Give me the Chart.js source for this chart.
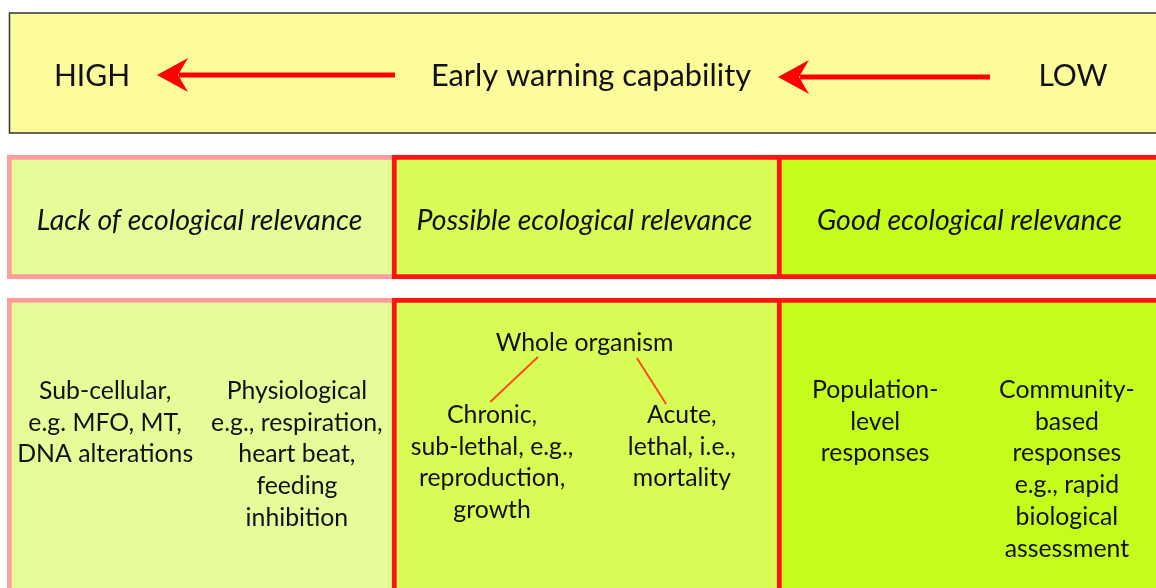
<!DOCTYPE html>
<html>
<head>
<meta charset="utf-8">
<script src="https://cdn.jsdelivr.net/npm/chart.js@4/dist/chart.umd.min.js"></script>
<style>
html, body { margin: 0; padding: 0; background: #fff; overflow: hidden; }
canvas { display: block; }
</style>
</head>
<body>
<canvas id="scheme" width="1162" height="588"></canvas>
<script>
// columns of the scheme and the text of each cell
var columns = ['Lack of ecological relevance', 'Possible ecological relevance', 'Good ecological relevance'];
var relevanceRow = [[155, 279], [155, 279], [155, 279]];
var responseRow = [[298, 588], [298, 588], [298, 588]];
var warningLabels = ['HIGH', 'Early warning capability', 'LOW'];
var lackBlocks = [['Sub-cellular,', 'e.g. MFO, MT,', 'DNA alterations'],
  ['Physiological', 'e.g., respiration,', 'heart beat,', 'feeding', 'inhibition']];
var wholeOrganism = 'Whole organism';
var possibleBlocks = [['Chronic,', 'sub-lethal, e.g.,', 'reproduction,', 'growth'],
  ['Acute,', 'lethal, i.e.,', 'mortality']];
var goodBlocks = [['Population-', 'level', 'responses'],
  ['Community-', 'based', 'responses', 'e.g., rapid', 'biological', 'assessment']];

var fills = ['#e6fc98', '#d8fc56', '#c6fc1c'];
var edges = ['#ff9c9c', '#ff1414', '#ff1414'];
var FONT = 'Lato, "Liberation Sans", sans-serif';

function txt(ctx, s, x, y, font) {
  ctx.font = font;
  ctx.fillText(s, x, y);
}

function arrow(ctx, tail, tip, y) {
  ctx.strokeStyle = '#ff0000';
  ctx.fillStyle = '#ff0000';
  ctx.lineWidth = 5;
  ctx.beginPath();
  ctx.moveTo(tail, y);
  ctx.lineTo(tip + 22, y);
  ctx.stroke();
  ctx.beginPath();
  ctx.moveTo(tip, y);
  ctx.lineTo(tip + 31, y - 17);
  ctx.lineTo(tip + 21, y);
  ctx.lineTo(tip + 31, y + 17);
  ctx.closePath();
  ctx.fill();
}

var schemePlugin = {
  id: 'scheme',
  beforeDatasetsDraw: function (chart) {
    var ctx = chart.ctx, ys = chart.scales.y;
    var top = ys.getPixelForValue(13), bot = ys.getPixelForValue(133);
    ctx.save();
    ctx.fillStyle = '#fcfc9a';
    ctx.fillRect(9, top, 1170, bot - top);
    ctx.strokeStyle = '#333';
    ctx.lineWidth = 1.5;
    ctx.strokeRect(9.5, top, 1170, bot - top);
    ctx.fillStyle = '#111';
    ctx.textAlign = 'center';
    var base = ys.getPixelForValue(86);
    txt(ctx, warningLabels[0], 92, base, '30px ' + FONT);
    txt(ctx, warningLabels[1], 591, base, '30.8px ' + FONT);
    txt(ctx, warningLabels[2], 1073, base, '30px ' + FONT);
    arrow(ctx, 395, 157, ys.getPixelForValue(75));
    arrow(ctx, 990, 778, ys.getPixelForValue(77));
    ctx.restore();
  },
  afterDatasetsDraw: function (chart) {
    var ctx = chart.ctx, xs = chart.scales.x, ys = chart.scales.y;
    var band = xs.getPixelForValue(1) - xs.getPixelForValue(0);
    var lh = 31.7;
    function at(col, frac) { return xs.getPixelForValue(col) + (frac - 0.5) * band; }
    function block(lines, col, frac, first) {
      lines.forEach(function (s, i) {
        txt(ctx, s, at(col, frac), ys.getPixelForValue(first + i * lh), '24.8px ' + FONT);
      });
    }
    ctx.save();
    ctx.fillStyle = '#111';
    ctx.textAlign = 'center';
    columns.forEach(function (c, i) {
      txt(ctx, c, xs.getPixelForValue(i), ys.getPixelForValue(230), 'italic 28.5px ' + FONT);
    });
    block(lackBlocks[0], 0, 0.255, 399);
    block(lackBlocks[1], 0, 0.753, 399);
    block([wholeOrganism], 1, 0.5, 351);
    block(possibleBlocks[0], 1, 0.26, 423);
    block(possibleBlocks[1], 1, 0.753, 423);
    block(goodBlocks[0], 2, 0.255, 398);
    block(goodBlocks[1], 2, 0.753, 398);
    // connectors from "Whole organism"
    ctx.strokeStyle = '#ff4a1a';
    ctx.lineWidth = 2;
    ctx.beginPath();
    ctx.moveTo(at(1, 0.379), ys.getPixelForValue(357));
    ctx.lineTo(at(1, 0.255), ys.getPixelForValue(402));
    ctx.moveTo(at(1, 0.636), ys.getPixelForValue(358));
    ctx.lineTo(at(1, 0.712), ys.getPixelForValue(404));
    ctx.stroke();
    ctx.restore();
  }
};

new Chart(document.getElementById('scheme'), {
  type: 'bar',
  data: {
    labels: columns,
    datasets: [{
      label: 'relevance',
      data: relevanceRow,
      backgroundColor: fills,
      borderColor: edges,
      borderWidth: { top: 5, bottom: 5, left: 5, right: 0 },
      borderSkipped: false
    }, {
      label: 'responses',
      data: responseRow,
      backgroundColor: fills,
      borderColor: edges,
      borderWidth: { top: 5, bottom: 0, left: 5, right: 0 },
      borderSkipped: false
    }]
  },
  options: {
    responsive: false,
    animation: false,
    grouped: false,
    barPercentage: 1,
    categoryPercentage: 1,
    layout: { padding: { left: 7, right: 0, top: 0, bottom: 0 } },
    scales: {
      x: { display: false, grid: { display: false } },
      y: { display: false, min: 0, max: 588, reverse: true }
    },
    plugins: { legend: { display: false }, tooltip: { enabled: false } }
  },
  plugins: [schemePlugin]
});
</script>
</body>
</html>
